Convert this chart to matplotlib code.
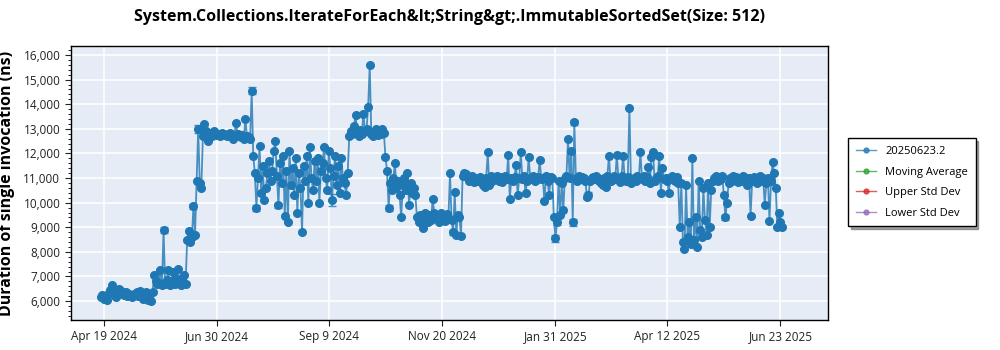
import datetime as dt
import matplotlib
matplotlib.use("Agg")
import matplotlib.pyplot as plt
import matplotlib.ticker as mticker
import pandas as pd

# one benchmark run per day, first run date
start_date = "2024-04-17"

# duration of single invocation in ns
durations = [
    6150, 6250, 6100, 6200, 6050, 6300, 6450, 6650, 6550, 6200,
    6150, 6450, 6500, 6400, 6300, 6250, 6350, 6200, 6300, 6250,
    6150, 6300, 6250, 6350, 6200, 6400, 6300, 6100, 6250, 6350,
    6050, 6200, 6000, 6350, 7050, 6800, 6700, 6750, 7250, 6650,
    8900, 6700, 6850, 7250, 6650, 6800, 7200, 6700, 6900, 7300,
    6750, 6650, 6950, 7050, 6700, 8500, 8850, 8400, 8600, 9850,
    8700, 10900, 13000, 10800, 10600, 12700, 13200, 12900, 12500, 12850,
    12800, 12700, 12900, 12850, 12750, 12800, 12700, 12850, 12800, 12750,
    12700, 12800, 12850, 12750, 12600, 12700, 13250, 12800, 12700, 12650,
    12750, 12600, 13400, 12700, 12650, 12600, 14550, 11900, 11200, 9800,
    11000, 12300, 10400, 11500, 10100, 10600, 11200, 11700, 10900, 11300,
    12100, 12500, 11100, 9900, 11600, 10800, 11900, 9450, 11300, 9200,
    12100, 10700, 11400, 10300, 11800, 9600, 11200, 10600, 8800, 11500,
    10900, 11900, 10000, 12250, 11000, 10500, 11700, 10900, 11800, 10000,
    11300, 11600, 12250, 11000, 10500, 12100, 11400, 10100, 11100, 11900,
    10700, 11500, 10400, 11800, 11000, 10800, 10300, 11200, 12700, 12900,
    12800, 13100, 13550, 12850, 12700, 12950, 12800, 13600, 12900, 13000,
    13900, 15600, 12800, 12700, 12850, 13000, 12750, 12900, 12800, 13000,
    12850, 11850, 11300, 9800, 10800, 10500, 11000, 11600, 10600, 10900,
    10300, 9400, 10700, 11000, 10500, 11200, 9900, 10800, 10400, 10600,
    10300, 9400, 9200, 9500, 9300, 8950, 9600, 9400, 9200, 9500,
    9300, 10150, 9600, 9400, 9500, 9200, 9600, 9350, 9500, 9250,
    9550, 9400, 11200, 9300, 8800, 10450, 8700, 9500, 9400, 8650,
    11100, 11200, 11150, 11050, 10900, 11000, 11100, 10850, 10950, 11000,
    10900, 11050, 10950, 10700, 10650, 11000, 12050, 10700, 11100, 10900,
    11000, 10950, 11100, 10900, 11050, 10850, 11000, 11100, 10950, 11950,
    10150, 11000, 10900, 11050, 11550, 10300, 11000, 12050, 10950, 11100,
    10400, 10900, 11850, 11000, 10950, 11100, 10900, 11000, 11050, 11750,
    10950, 11000, 10050, 11100, 10900, 10300, 11050, 11000, 9400, 8550,
    9200, 10900, 9500, 10800, 9700, 11000, 11100, 12600, 11000, 12100,
    9200, 13270, 11000, 10900, 11100, 10950, 11050, 11000, 10900, 10250,
    10300, 10900, 11000, 11050, 10950, 11100, 11000, 10900, 10800, 10700,
    11000, 10650, 11100, 11900, 10900, 11000, 11100, 10950, 11950, 11000,
    10850, 11100, 11900, 11000, 10900, 11050, 13850, 10800, 10950, 11000,
    10900, 11100, 11000, 12050, 10950, 11100, 10900, 11050, 11450, 10800,
    11850, 12050, 10900, 11000, 11100, 11900, 10400, 11400, 10950, 11000,
    10900, 10400, 11000, 11100, 10950, 10900, 11050, 10800, 9000, 10800,
    8400, 8100, 10700, 8600, 9200, 8300, 11800, 8500, 9400, 8200,
    10900, 8900, 8600, 10600, 9300, 8700, 10800, 9000, 10500, 10900,
    11000, 11100, 10900, 11050, 10950, 11100, 10300, 9400, 10000, 10800,
    11000, 10900, 11100, 10950, 11050, 10850, 11000, 10900, 11100, 11050,
    10900, 10700, 11000, 9450, 10900, 11050, 11000, 10800, 10950, 11100,
    10900, 11000, 9900, 10800, 11000, 9250, 10900, 11650, 11200, 10600,
    9000, 9600, 9200, 9000,
]

# runs where the error bar caps stand out from the markers
err_days = [40, 59, 62, 96, 99, 113, 147, 183, 224, 289, 290, 300, 301, 309, 310, 397]
err_sizes = [120, 100, 150, 150, 120, 100, 250, 120, 100, 150, 120, 150, 100, 120, 120, 100]

tick_dates = ["2024-04-19", "2024-06-30", "2024-09-09", "2024-11-20",
              "2025-01-31", "2025-04-12", "2025-06-23"]
tick_labels = ["Apr 19 2024", "Jun 30 2024", "Sep 9 2024", "Nov 20 2024",
               "Jan 31 2025", "Apr 12 2025", "Jun 23 2025"]

plt.rcParams["font.family"] = ["Open Sans", "DejaVu Sans"]

dates = pd.date_range(start_date, periods=len(durations), freq="D")
blue = "#1f77b4"

fig = plt.figure(figsize=(10, 3.5), dpi=100)
ax = fig.add_axes([0.0707, 0.0857, 0.757, 0.783])
ax.set_facecolor("#e5ecf6")

ax.plot(dates, durations, color=blue, lw=1.3, alpha=0.8, zorder=3)
ax.plot(dates, durations, "o", color=blue, ms=5.5, zorder=4)
ax.errorbar(dates[err_days], [durations[i] for i in err_days], yerr=err_sizes,
            fmt="none", ecolor=blue, elinewidth=1.2, capsize=3, alpha=0.8, zorder=3)

# legend handles; the three statistic series carry no points
for color, name in [(blue, "20250623.2"), ("#2ca02c", "Moving Average"),
                    ("#d62728", "Upper Std Dev"), ("#9467bd", "Lower Std Dev")]:
    ax.plot([], [], "-", color=color, lw=1, alpha=0.75, marker="o", ms=3.5,
            markerfacecolor=color, markeredgecolor=color, label=name)

ax.set_xlim(pd.Timestamp("2024-03-29"), pd.Timestamp("2025-07-23"))
ax.set_ylim(5230, 16370)
ax.set_xticks(pd.to_datetime(tick_dates))
ax.set_xticklabels(tick_labels)
ax.yaxis.set_major_locator(mticker.MultipleLocator(1000))
ax.yaxis.set_minor_locator(mticker.MultipleLocator(200))
ax.yaxis.set_major_formatter(mticker.StrMethodFormatter("{x:,.0f}"))
ax.tick_params(labelsize=8.5, colors="#222222")
ax.tick_params(axis="both", which="major", length=4)
ax.tick_params(axis="y", which="minor", length=2)
ax.grid(True, color="white", lw=1.1)
ax.set_axisbelow(True)
for s in ax.spines.values():
    s.set_color("black")
    s.set_linewidth(1)

ax.set_ylabel("Duration of single invocation (ns)", fontsize=11.5, fontweight="bold",
              labelpad=6)
fig.suptitle("System.Collections.IterateForEach&lt;String&gt;.ImmutableSortedSet(Size: 512)",
             x=0.45, y=0.975, fontsize=11.5, fontweight="bold")

leg = ax.legend(loc="center left", bbox_to_anchor=(1.02, 0.502), fontsize=8,
                frameon=True, fancybox=False, shadow=True, edgecolor="black",
                handlelength=1.8, borderpad=0.7, labelspacing=0.85)
leg.get_frame().set_linewidth(1)

fig.savefig("out.png", dpi=100)
